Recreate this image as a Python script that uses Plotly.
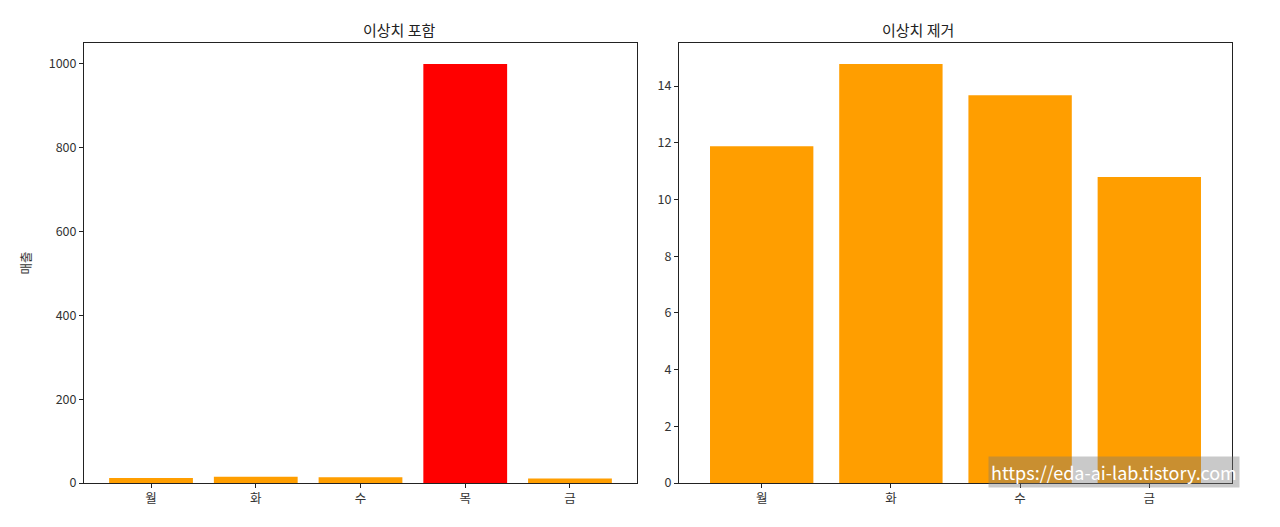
import plotly.graph_objects as go

days_all = ["월", "화", "수", "목", "금"]
sales_all = [11.88, 14.78, 13.68, 1000, 10.79]
colors_all = ["#ff9e00", "#ff9e00", "#ff9e00", "#ff0000", "#ff9e00"]

days_clean = ["월", "화", "수", "금"]
sales_clean = [11.88, 14.78, 13.68, 10.79]

left_ticks = [0, 200, 400, 600, 800, 1000]
right_ticks = [0, 2, 4, 6, 8, 10, 12, 14]

W, H = 1280, 527
FONT = "Noto Sans CJK KR, Noto Sans, sans-serif"


def px(x):
    return x / W


def py(y):
    return (H - y) / H


fig = go.Figure()
fig.add_trace(go.Bar(x=days_all, y=sales_all, marker=dict(color=colors_all, line=dict(width=0)),
                     xaxis="x", yaxis="y", showlegend=False))
fig.add_trace(go.Bar(x=days_clean, y=sales_clean, marker=dict(color="#ff9e00", line=dict(width=0)),
                     xaxis="x2", yaxis="y2", showlegend=False))

ax_common = dict(showline=True, mirror=True, linecolor="#222", linewidth=1, automargin=False,
                 ticks="outside", ticklen=4, tickcolor="#222", showgrid=False, zeroline=False,
                 tickfont=dict(size=12.5, color="#333", family=FONT))

yd = [py(483), py(43)]
fig.update_layout(
    width=W, height=H,
    margin=dict(l=0, r=0, t=0, b=0, autoexpand=False),
    paper_bgcolor="white", plot_bgcolor="white",
    bargap=0.2,
    font=dict(family=FONT, color="#333"),
    xaxis=dict(domain=[px(84), px(637)], range=[-0.64, 4.64], anchor="y", **ax_common),
    yaxis=dict(domain=yd, range=[0, 1050], tickvals=left_ticks, anchor="x",
               title=dict(text="매출", font=dict(size=12.5, color="#333"), standoff=14), **ax_common),
    xaxis2=dict(domain=[px(679), px(1232)], range=[-0.64, 3.64], anchor="y2", **ax_common),
    yaxis2=dict(domain=yd, range=[0, 15.52], tickvals=right_ticks, anchor="x2", **ax_common),
    annotations=[
        dict(text="이상치 포함", x=px((84 + 637) / 2), y=py(29), xref="paper", yref="paper",
             showarrow=False, font=dict(size=15, color="#222", family=FONT), yanchor="middle"),
        dict(text="이상치 제거", x=px((679 + 1232) / 2), y=py(29), xref="paper", yref="paper",
             showarrow=False, font=dict(size=15, color="#222", family=FONT), yanchor="middle"),
        dict(text="https://eda-ai-lab.tistory.com", x=px(1240), y=py(472), xref="paper", yref="paper",
             xanchor="right", yanchor="middle", showarrow=False,
             font=dict(size=18, color="white", family=FONT), bgcolor="rgba(120,120,120,0.4)",
             borderpad=2),
    ],
)

fig.write_html(
    "out.html",
    config={"displayModeBar": False},
    post_script="document.body.style.margin='0';document.body.style.overflow='hidden';",
)
